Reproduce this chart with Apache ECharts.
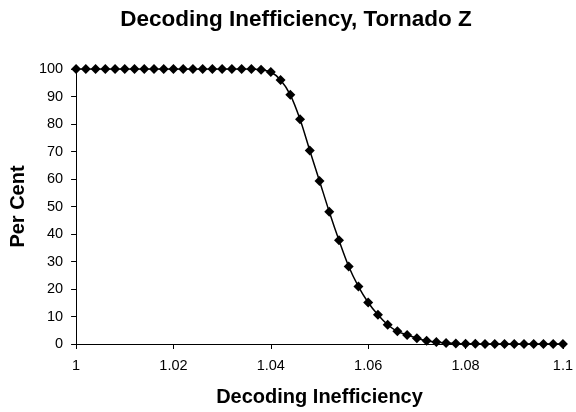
<!DOCTYPE html>
<html>
<head>
<meta charset="utf-8">
<script src="https://cdn.jsdelivr.net/npm/echarts@6/dist/echarts.min.js"></script>
<style>html,body{margin:0;padding:0;background:#fff}#c{width:576px;height:412px}</style>
</head>
<body>
<div id="c"></div>
<script>
var titleText = 'Decoding Inefficiency, Tornado Z';
var xName = 'Decoding Inefficiency';
var yName = 'Per Cent';
var xValues = [1.000,1.002,1.004,1.006,1.008,1.010,1.012,1.014,1.016,1.018,
  1.020,1.022,1.024,1.026,1.028,1.030,1.032,1.034,1.036,1.038,
  1.040,1.042,1.044,1.046,1.048,1.050,1.052,1.054,1.056,1.058,
  1.060,1.062,1.064,1.066,1.068,1.070,1.072,1.074,1.076,1.078,
  1.080,1.082,1.084,1.086,1.088,1.090,1.092,1.094,1.096,1.098,1.100];
var percent = [100,100,100,100,100,100,100,100,100,100,
  100,100,100,100,100,100,100,100,100,99.7,
  98.9,96,90.6,81.7,70.4,59.3,48.1,37.7,28.2,20.9,
  15.1,10.6,7.0,4.6,3.3,2.1,1.2,0.7,0.4,0.2,
  0.1,0.05,0,0,0,0,0,0,0,0,0];

var chart = echarts.init(document.getElementById('c'));
var data = xValues.map(function(x, i){ return [x, percent[i]]; });
var font = 'Liberation Sans, Arial, sans-serif';
chart.setOption({
  backgroundColor: '#fff',
  animation: false,
  title: {
    text: titleText, left: 291, textAlign: 'center', top: 3,
    textStyle: {fontFamily: font, fontSize: 22.5, fontWeight: 'bold', color: '#000'}
  },
  grid: {left: 76, right: 10, top: 69, bottom: 66, containLabel: false},
  xAxis: {
    type: 'value', min: 1, max: 1.1, interval: 0.02,
    name: xName, nameLocation: 'middle', nameGap: 43,
    nameTextStyle: {fontFamily: font, fontSize: 20, fontWeight: 'bold', color: '#000'},
    axisLine: {show: true, onZero: false, lineStyle: {color: '#000', width: 1}},
    axisTick: {show: true, inside: false, length: 5, lineStyle: {color: '#000'}},
    axisLabel: {fontFamily: font, fontSize: 14.5, color: '#000', margin: 14,
      formatter: function(v){ return String(+v.toFixed(2)); }},
    splitLine: {show: false}
  },
  yAxis: {
    type: 'value', min: 0, max: 100, interval: 10,
    name: yName, nameLocation: 'middle', nameGap: 48,
    nameTextStyle: {fontFamily: font, fontSize: 20, fontWeight: 'bold', color: '#000'},
    axisLine: {show: true, lineStyle: {color: '#000', width: 1}},
    axisTick: {show: true, inside: false, length: 5, lineStyle: {color: '#000'}},
    axisLabel: {fontFamily: font, fontSize: 14.5, color: '#000', margin: 13},
    splitLine: {show: false}
  },
  series: [{
    type: 'line', data: data, smooth: 0.3,
    symbol: 'diamond', symbolSize: 10,
    lineStyle: {color: '#000', width: 1.5},
    itemStyle: {color: '#000'}
  }]
});
</script>
</body>
</html>
